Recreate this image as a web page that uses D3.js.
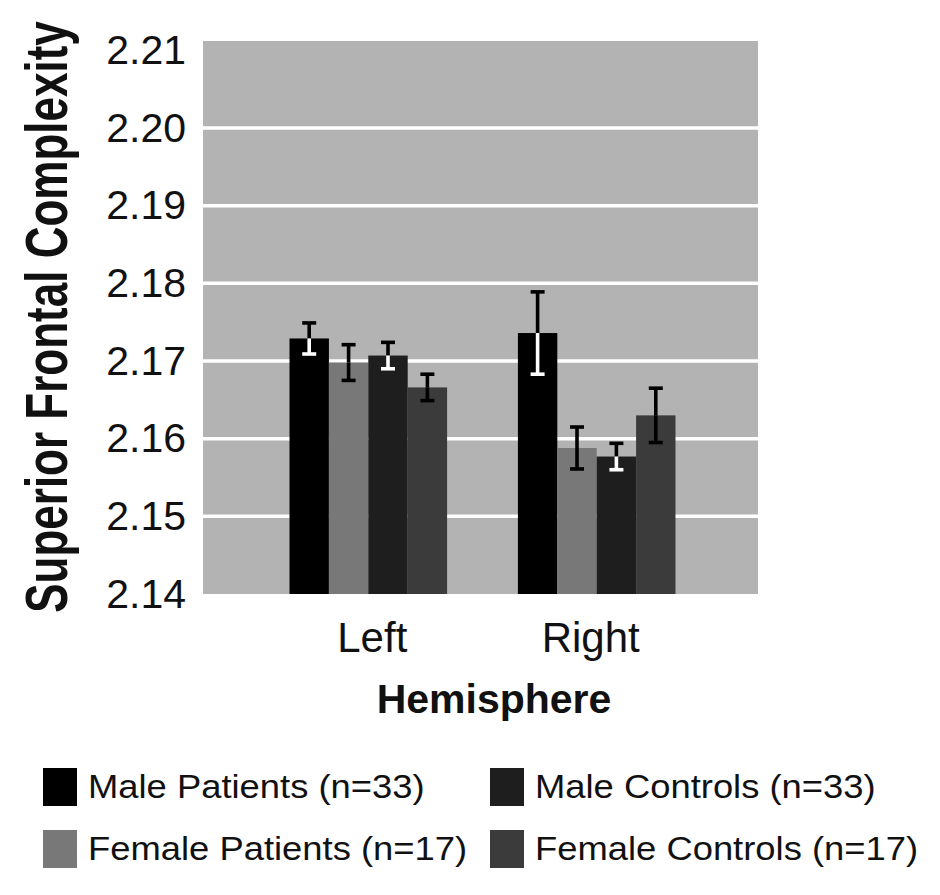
<!DOCTYPE html>
<html>
<head>
<meta charset="utf-8">
<script src="https://cdn.jsdelivr.net/npm/d3@7/dist/d3.min.js"></script>
<style>
  html, body { margin: 0; padding: 0; background: #fff; }
  svg { display: block; font-family: Arial, "Liberation Sans", sans-serif; }
</style>
</head>
<body>
<svg id="chart" width="940" height="895"></svg>
<script>
// Hemisphere groups and the four subject series
const hemispheres = ["Left", "Right"];
const seriesNames = ["Male Patients (n=33)", "Female Patients (n=17)", "Male Controls (n=33)", "Female Controls (n=17)"];
const seriesKeys = ["mp", "fp", "mc", "fc"];
const seriesColors = ["#000000", "#787878", "#1e1e1e", "#3b3b3b"];
// lower half of the error bar is white on the darkest bars
const lowerErrColors = ["#ffffff", "#000000", "#ffffff", "#000000"];

// Mean complexity per hemisphere, in seriesKeys order
const meansLeft = [2.1729, 2.1698, 2.1707, 2.1666];
const meansRight = [2.1736, 2.1588, 2.1577, 2.1630];
// Standard error per hemisphere
const errLeft = [0.0020, 0.0023, 0.0017, 0.0017];
const errRight = [0.0053, 0.0027, 0.0017, 0.0035];

const yTicks = [2.14, 2.15, 2.16, 2.17, 2.18, 2.19, 2.20, 2.21];

const data = hemispheres.map((h, i) => ({
  hemisphere: h,
  values: seriesKeys.map((k, j) => ({
    key: k,
    idx: j,
    mean: (i === 0 ? meansLeft : meansRight)[j],
    err: (i === 0 ? errLeft : errRight)[j]
  }))
}));

const svg = d3.select("#chart");
const plot = { left: 203, right: 758, top: 41, bottom: 594 };

const y = d3.scaleLinear().domain([2.14, 2.2112]).range([plot.bottom, plot.top]);
const x0 = d3.scaleBand().domain(hemispheres).range([plot.left, plot.right])
  .paddingInner(0.31).paddingOuter(0.37);
const x1 = d3.scaleBand().domain(seriesKeys).range([0, x0.bandwidth()]).padding(0);

// plot background
svg.append("rect")
  .attr("x", plot.left).attr("y", plot.top)
  .attr("width", plot.right - plot.left).attr("height", plot.bottom - plot.top)
  .attr("fill", "#b3b3b3");

// white gridlines
svg.append("g")
  .selectAll("line")
  .data(yTicks.filter(t => t > 2.14 && t < 2.21))
  .join("line")
  .attr("x1", plot.left).attr("x2", plot.right)
  .attr("y1", d => y(d)).attr("y2", d => y(d))
  .attr("stroke", "#ffffff").attr("stroke-width", 3.5);

// y axis tick labels
const yAxis = d3.axisLeft(y).tickValues(yTicks).tickFormat(d3.format(".2f")).tickSize(0).tickPadding(17);
const yg = svg.append("g").attr("transform", `translate(${plot.left},0)`).call(yAxis);
yg.select(".domain").remove();
yg.selectAll("text")
  .attr("font-size", 41).attr("fill", "#111")
  .attr("font-family", "Arial, 'Liberation Sans', sans-serif");

// bars
const groups = svg.append("g").selectAll("g")
  .data(data)
  .join("g")
  .attr("transform", d => `translate(${x0(d.hemisphere) + 2},0)`);

groups.selectAll("rect")
  .data(d => d.values)
  .join("rect")
  .attr("x", d => x1(d.key))
  .attr("y", d => y(d.mean))
  .attr("width", x1.bandwidth())
  .attr("height", d => y(2.14) - y(d.mean))
  .attr("fill", d => seriesColors[d.idx]);

// error bars: upper half black, lower half coloured per series
const capW = 14;
const ebW = 3.6;
const eb = groups.selectAll("g.err")
  .data(d => d.values)
  .join("g")
  .attr("class", "err")
  .attr("transform", d => `translate(${x1(d.key) + x1.bandwidth() / 2},0)`);

eb.append("line")
  .attr("x1", 0).attr("x2", 0)
  .attr("y1", d => y(d.mean)).attr("y2", d => y(d.mean + d.err))
  .attr("stroke", "#000").attr("stroke-width", ebW);
eb.append("line")
  .attr("x1", -capW / 2).attr("x2", capW / 2)
  .attr("y1", d => y(d.mean + d.err)).attr("y2", d => y(d.mean + d.err))
  .attr("stroke", "#000").attr("stroke-width", ebW);
eb.append("line")
  .attr("x1", 0).attr("x2", 0)
  .attr("y1", d => y(d.mean)).attr("y2", d => y(d.mean - d.err))
  .attr("stroke", d => lowerErrColors[d.idx]).attr("stroke-width", ebW);
eb.append("line")
  .attr("x1", -capW / 2).attr("x2", capW / 2)
  .attr("y1", d => y(d.mean - d.err)).attr("y2", d => y(d.mean - d.err))
  .attr("stroke", d => lowerErrColors[d.idx]).attr("stroke-width", ebW);

// category labels
svg.append("g").selectAll("text")
  .data(hemispheres)
  .join("text")
  .attr("x", (d, i) => x0(d) + x0.bandwidth() / 2 + (i === 0 ? 6 : -4))
  .attr("y", 652)
  .attr("text-anchor", "middle")
  .attr("font-size", 42).attr("fill", "#111")
  .text(d => d);

// x axis title
svg.append("text")
  .attr("x", 494).attr("y", 713)
  .attr("text-anchor", "middle")
  .attr("font-size", 41).attr("font-weight", "bold").attr("fill", "#111")
  .text("Hemisphere");

// y axis title
svg.append("text")
  .attr("transform", "translate(67,317) rotate(-90) scale(1,1.35)")
  .attr("text-anchor", "middle")
  .attr("font-size", 44).attr("font-weight", "bold").attr("fill", "#111")
  .text("Superior Frontal Complexity");

// legend: two columns, two rows
const legendPos = [
  { x: 43, y: 768 },
  { x: 43, y: 830 },
  { x: 490, y: 768 },
  { x: 490, y: 830 }
];
const lg = svg.append("g").selectAll("g")
  .data(seriesNames)
  .join("g")
  .attr("transform", (d, i) => `translate(${legendPos[i].x},${legendPos[i].y})`);
lg.append("rect")
  .attr("width", 34).attr("height", 38)
  .attr("fill", (d, i) => seriesColors[i]);
lg.append("text")
  .attr("transform", "translate(45,30) scale(1.07,1)")
  .attr("font-size", 34).attr("fill", "#111")
  .text(d => d);
</script>
</body>
</html>
